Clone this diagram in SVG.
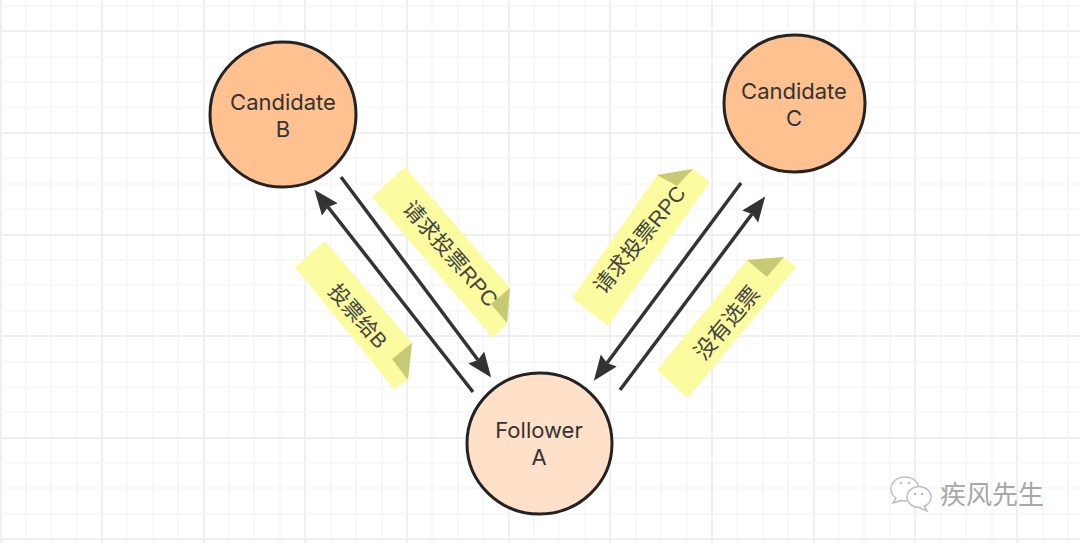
<svg xmlns="http://www.w3.org/2000/svg" width="1080" height="543" viewBox="0 0 1080 543">
<style>
.grid{stroke:#f6f6f6;stroke-width:1.5;fill:none}
.major{stroke:#efefef;stroke-width:2;fill:none}
.node{stroke:#232323;stroke-width:3}
.cand{fill:#ffc18f}
.foll{fill:#ffe0c8}
.lbl{font-family:"Inter","Noto Sans CJK SC",sans-serif;font-size:22px;fill:#333;text-anchor:middle}
.note{fill:#fbfba0}
.fold{fill:#c6ca74}
.nt{font-family:"Liberation Sans","Noto Sans CJK SC",sans-serif;fill:#444;text-anchor:middle;dominant-baseline:central}
.arr{stroke:#333;stroke-width:3.500;fill:none;marker-end:url(#head)}
.wm{font-family:"Noto Sans CJK SC",sans-serif;font-size:26px;fill:#a8a8a8}
.wi{fill:#fff;stroke:#c0c0c0;stroke-width:1.500}
</style>
<defs>
<marker id="head" markerUnits="userSpaceOnUse" markerWidth="30" markerHeight="26" viewBox="0 -13 30 26" refX="3" refY="0" orient="auto">
<path d="M0,-10 L25,0 L0,10 L3,0 Z" fill="#333"/>
</marker>
</defs>
<rect width="1080" height="543" fill="#fff"/>
<g id="grid">
<path class="grid" d="M26 0V543M51 0V543M77 0V543M127 0V543M153 0V543M178 0V543M229 0V543M254 0V543M280 0V543M331 0V543M356 0V543M382 0V543M432 0V543M458 0V543M483 0V543M534 0V543M559 0V543M585 0V543M636 0V543M661 0V543M687 0V543M737 0V543M763 0V543M788 0V543M839 0V543M864 0V543M890 0V543M941 0V543M966 0V543M992 0V543M1043 0V543M1068 0V543"/>
<path class="major" d="M1 0V543M102 0V543M204 0V543M305 0V543M407 0V543M509 0V543M610 0V543M712 0V543M814 0V543M915 0V543M1017 0V543"/>
<path class="grid" d="M0 6H1080M0 57H1080M0 82H1080M0 107H1080M0 158H1080M0 184H1080M0 209H1080M0 260H1080M0 285H1080M0 311H1080M0 362H1080M0 387H1080M0 412H1080M0 463H1080M0 488H1080M0 514H1080"/>
<path class="major" d="M0 31H1080M0 133H1080M0 235H1080M0 336H1080M0 438H1080M0 539H1080"/>
</g>
<g id="note-vote-b">
<polygon class="note" points="295,267 325,241 412,343 408,380 394,389"/>
<polygon class="fold" points="412,343 392,359 408,380"/>
<text class="nt" font-size="21" transform="translate(358,316) rotate(49)">投票给B</text>
</g>
<g id="note-request-b">
<polygon class="note" points="372,197 405,167 510,288 507,323 493,338"/>
<polygon class="fold" points="510,288 491,304 507,323"/>
<text class="nt" font-size="21.500" transform="translate(450,254) rotate(49)">请求投票RPC</text>
</g>
<g id="note-request-c">
<polygon class="note" points="572,298 608,326 710,182 693,169 657,175"/>
<polygon class="fold" points="657,175 693,169 677,186"/>
<text class="nt" font-size="21.500" transform="translate(640,240) rotate(-51)">请求投票RPC</text>
</g>
<g id="note-no-vote">
<polygon class="note" points="657,370 688,398 796,267 783,257 747,260"/>
<polygon class="fold" points="747,260 784,257 767,277"/>
<text class="nt" font-size="22" transform="translate(727,323) rotate(-50)">没有选票</text>
</g>
<g id="connectors">
<line class="arr" x1="473" y1="392" x2="328" y2="207"/>
<line class="arr" x1="341" y1="177" x2="478" y2="360"/>
<line class="arr" x1="741" y1="183" x2="607" y2="363"/>
<line class="arr" x1="620" y1="390" x2="752" y2="214"/>
</g>
<g id="candidate-b">
<ellipse class="node cand" cx="283" cy="114.500" rx="73" ry="72.500"/>
<text class="lbl" x="283" y="110">Candidate</text>
<text class="lbl" x="283" y="137">B</text>
</g>
<g id="candidate-c">
<ellipse class="node cand" cx="794.500" cy="103.500" rx="70.500" ry="68.500"/>
<text class="lbl" x="794" y="99">Candidate</text>
<text class="lbl" x="794" y="126">C</text>
</g>
<g id="follower-a">
<ellipse class="node foll" cx="539.500" cy="443.500" rx="72.500" ry="70.500"/>
<text class="lbl" x="539" y="438">Follower</text>
<text class="lbl" x="539" y="465">A</text>
</g>
<g id="watermark">
<ellipse class="wi" cx="905" cy="489" rx="14" ry="12"/>
<path class="wi" d="M896 498L893 503L903 500"/>
<ellipse class="wi" cx="919" cy="497" rx="12" ry="10.500"/>
<path class="wi" d="M924 506L927 511L918 507"/>
<circle cx="901" cy="483" r="1.300" fill="#bbb"/><circle cx="909" cy="483" r="1.300" fill="#bbb"/>
<circle cx="915" cy="494" r="1.300" fill="#bbb"/><circle cx="922" cy="494" r="1.300" fill="#bbb"/>
<text class="wm" x="940" y="504">疾风先生</text>
</g>
</svg>
